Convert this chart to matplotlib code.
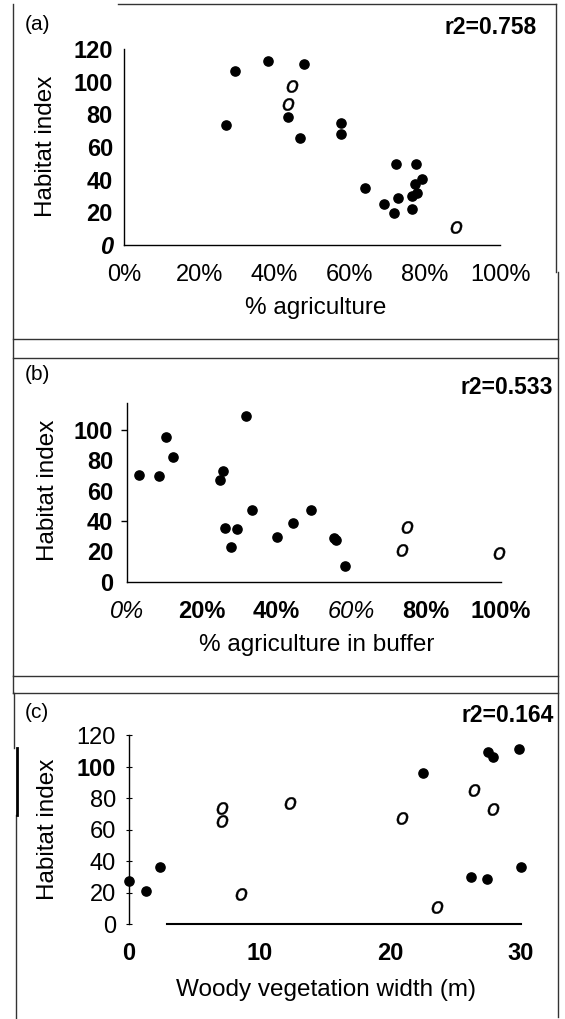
import matplotlib
matplotlib.use("Agg")
import matplotlib.pyplot as plt
from matplotlib.lines import Line2D

plt.rcParams['font.family'] = ['Liberation Sans', 'DejaVu Sans']

# (a) habitat index vs % agriculture
a_fill_x = [27.2, 29.6, 38.3, 48.0, 43.5, 46.7, 57.8, 57.8, 64.1, 69.2,
            71.8, 72.4, 72.9, 77.6, 79.3, 77.4, 76.6, 78.0, 76.6]
a_fill_y = [73.6, 106.7, 112.8, 110.8, 78.1, 65.8, 74.6, 67.9, 35.2, 24.9,
            19.8, 49.5, 29.0, 49.5, 40.3, 37.2, 30.0, 31.7, 22.1]
a_open_x = [44.8, 43.6, 88.3]
a_open_y = [97.1, 86.5, 11.2]
a_xticks = [0, 20, 40, 60, 80, 100]
a_xlabels = ['0%', '20%', '40%', '60%', '80%', '100%']
a_yticks = [0, 20, 40, 60, 80, 100, 120]
a_ylabels = ['0', '20', '40', '60', '80', '100', '120']

# (b) habitat index vs % agriculture in buffer
b_fill_x = [3.2, 8.5, 10.4, 12.3, 24.9, 25.8, 31.9, 26.3, 27.8, 29.5,
            33.3, 40.1, 44.4, 49.3, 55.4, 56.0, 58.3]
b_fill_y = [70.1, 69.5, 95.1, 81.9, 66.8, 73.2, 109.3, 35.4, 23.2, 34.5,
            47.3, 29.6, 38.7, 47.3, 28.8, 27.4, 10.2]
b_open_x = [74.9, 73.6, 99.5]
b_open_y = [35.8, 21.0, 19.0]
b_xticks = [0, 20, 40, 60, 80, 100]
b_xlabels = ['0%', '20%', '40%', '60%', '80%', '100%']
b_yticks = [0, 20, 40, 60, 80, 100]
b_ylabels = ['0', '20', '40', '60', '80', '100']

# (c) habitat index vs woody vegetation width
c_fill_x = [0.0, 1.3, 2.4, 22.5, 27.5, 27.9, 29.9, 26.2, 27.4, 30.0]
c_fill_y = [27.7, 20.9, 36.1, 95.7, 109.4, 105.9, 111.1, 30.0, 28.9, 36.6]
c_open_x = [7.1, 7.1, 12.3, 8.6, 20.9, 26.4, 27.9, 23.6]
c_open_y = [73.5, 65.5, 77.1, 19.0, 67.6, 85.1, 73.3, 11.0]
c_xticks = [0, 10, 20, 30]
c_xlabels = ['0', '10', '20', '30']
c_yticks = [0, 20, 40, 60, 80, 100, 120]
c_ylabels = ['0', '20', '40', '60', '80', '100', '120']

r2_values = ['0.758', '0.533', '0.164']

W, H = 565, 1019
fig = plt.figure(figsize=(W / 100, H / 100), dpi=100)


def box(left, top, right, bottom):
    # axes rectangle given in pixels from the top-left corner
    return [left / W, 1 - bottom / H, (right - left) / W, (bottom - top) / H]


def fx(x):
    return x / W


def fy(y):
    return 1 - y / H


def scatter_panel(ax, fx_, fy_, ox, oy):
    ax.scatter(fx_, fy_, s=44, color='black', zorder=3, clip_on=False)
    ax.scatter(ox, oy, s=80, marker=r'$o$', color='black', linewidths=0.3,
               edgecolors='black', zorder=3, clip_on=False)
    for s in ['top', 'right']:
        ax.spines[s].set_visible(False)
    for s in ['left', 'bottom']:
        ax.spines[s].set_linewidth(1.0)


TICK = 17
LAB = 17.5

# ---- panel (a)
ax1 = fig.add_axes(box(124, 49, 500, 245))
scatter_panel(ax1, a_fill_x, a_fill_y, a_open_x, a_open_y)
ax1.set_xlim(0, 100)
ax1.set_ylim(0, 120)
ax1.set_xticks(a_xticks)
ax1.set_xticklabels(a_xlabels, fontsize=TICK)
ax1.set_yticks(a_yticks)
ax1.set_yticklabels(a_ylabels, fontsize=TICK, fontweight='bold')
ax1.get_yticklabels()[0].set_style('italic')
ax1.tick_params(axis='both', length=0)
ax1.tick_params(axis='x', pad=14)
ax1.tick_params(axis='y', pad=8)
ax1.set_xlabel('% agriculture', fontsize=LAB, va='center')
ax1.xaxis.set_label_coords(0.51, -0.321)
ax1.set_ylabel('Habitat index', fontsize=LAB, va='center')
ax1.yaxis.set_label_coords(-0.207, 0.503)

# ---- panel (b)
ax2 = fig.add_axes(box(127, 402.7, 501, 581.7))
scatter_panel(ax2, b_fill_x, b_fill_y, b_open_x, b_open_y)
ax2.set_xlim(0, 100)
ax2.set_ylim(0, 118)
ax2.set_xticks(b_xticks)
ax2.set_xticklabels(b_xlabels, fontsize=TICK, fontweight='bold')
for i in (0, 3):
    lbl = ax2.get_xticklabels()[i]
    lbl.set_style('italic')
    lbl.set_fontweight('normal')
ax2.set_yticks(b_yticks)
ax2.set_yticklabels(b_ylabels, fontsize=TICK, fontweight='bold')
ax2.tick_params(axis='x', length=0, pad=13)
ax2.tick_params(axis='y', length=4, width=1.0, pad=6)
for t, v in zip(ax2.yaxis.get_major_ticks(), b_yticks):
    t.tick1line.set_visible(v in (40, 100))
ax2.set_xlabel('% agriculture in buffer', fontsize=LAB, va='center')
ax2.xaxis.set_label_coords(0.508, -0.354)
ax2.set_ylabel('Habitat index', fontsize=LAB, va='center')
ax2.yaxis.set_label_coords(-0.211, 0.512)

# ---- panel (c)
ax3 = fig.add_axes(box(129, 735, 520.7, 924.3))
scatter_panel(ax3, c_fill_x, c_fill_y, c_open_x, c_open_y)
ax3.set_xlim(0, 30)
ax3.set_ylim(0, 120)
ax3.spines['bottom'].set_bounds(2.9, 30)
ax3.spines['bottom'].set_linewidth(1.5)
ax3.axhline(0, xmax=2.9 / 30, color='0.7', lw=0.7, zorder=1)
ax3.set_xticks(c_xticks)
ax3.set_xticklabels(c_xlabels, fontsize=TICK, fontweight='bold')
ax3.set_yticks(c_yticks)
ax3.set_yticklabels(c_ylabels, fontsize=TICK)
ax3.get_yticklabels()[5].set_fontweight('bold')
ax3.tick_params(axis='x', length=0, pad=13)
ax3.tick_params(axis='y', length=5, width=0.8, direction='inout', pad=7)
ax3.set_xlabel('Woody vegetation width (m)', fontsize=LAB, va='center')
ax3.xaxis.set_label_coords(0.503, -0.347)
ax3.set_ylabel('Habitat index', fontsize=LAB, va='center')
ax3.yaxis.set_label_coords(-0.208, 0.503)

# panel tags and r2 values
for tag, y in [('(a)', 25), ('(b)', 375), ('(c)', 713)]:
    fig.text(fx(25), fy(y), tag, fontsize=15, va='center', ha='left')
for r2, (x, y) in zip(r2_values, [(537, 28), (553, 388), (554, 715)]):
    fig.text(fx(x), fy(y), 'r2=' + r2, fontsize=16.5, fontweight='bold',
             va='center', ha='right')

# frames around the three panels
frame = [
    ((118, 4), (556, 4)),
    ((13, 4), (13, 675)),
    ((556, 4), (556, 272)),
    ((558, 272), (558, 1017)),
    ((13, 339), (558, 339)),
    ((13, 358), (558, 358)),
    ((13, 676), (558, 676)),
    ((13, 693), (558, 693)),
    ((13, 676), (13, 693)),
    ((14, 693), (14, 748)),
    ((16, 815), (16, 1019)),
]
for (x0, y0), (x1, y1) in frame:
    fig.add_artist(Line2D([fx(x0), fx(x1)], [fy(y0), fy(y1)],
                          transform=fig.transFigure, color='#333333', lw=1.0))
fig.add_artist(Line2D([fx(17), fx(17)], [fy(748), fy(815)],
                      transform=fig.transFigure, color='black', lw=2.0))

fig.savefig('out.png', dpi=100)
